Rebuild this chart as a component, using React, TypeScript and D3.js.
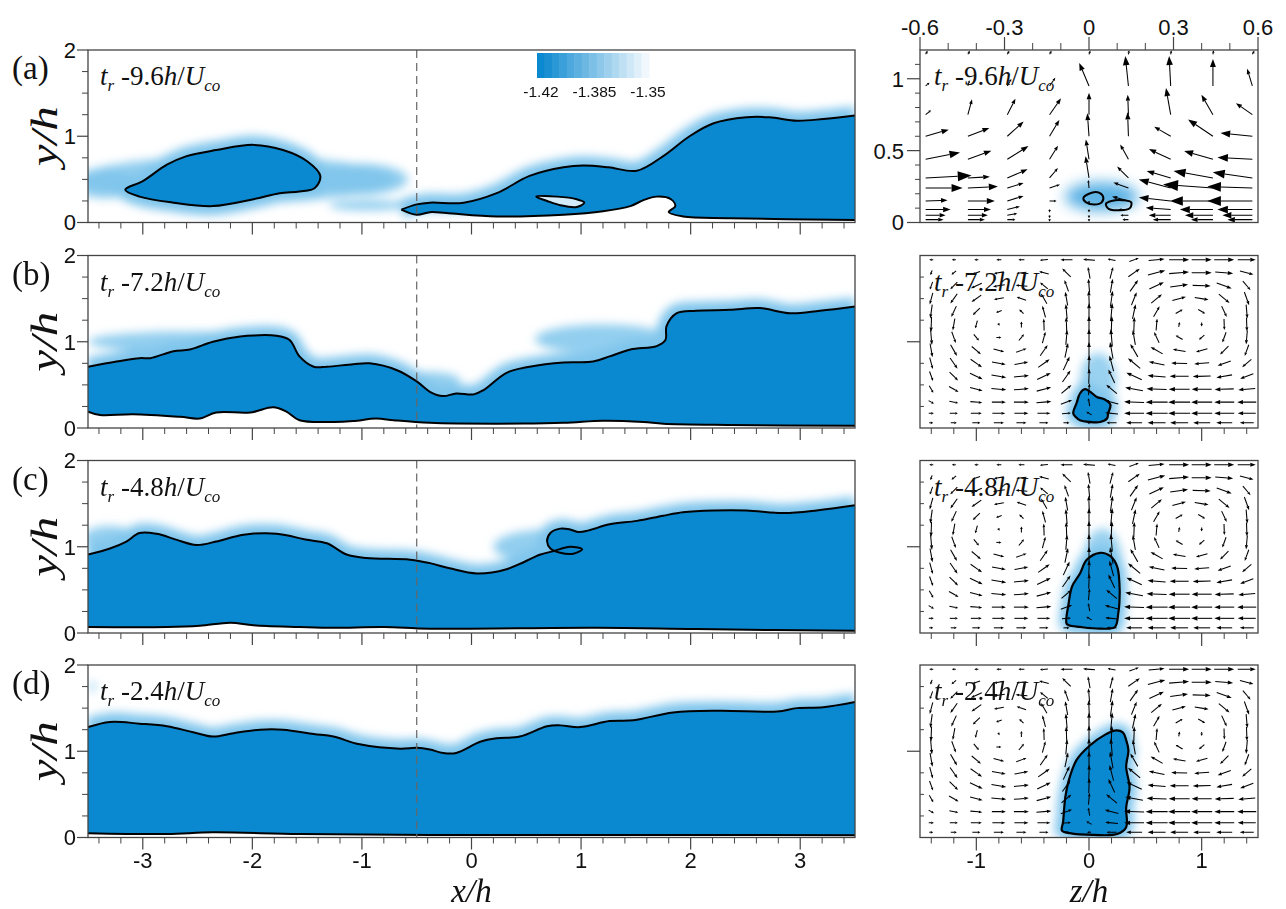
import React from "react";
import * as d3 from "d3";

type P = [number, number];

// ---------------- data ----------------
const panelLetters = ["(a)", "(b)", "(c)", "(d)"];
const timeValues = ["-9.6", "-7.2", "-4.8", "-2.4"];
const xTickLabels = [-3, -2, -1, 0, 1, 2, 3];
const yTickLabels = [0, 1, 2];
const zTickLabels = [-1, 0, 1];
const topTickLabels = [-0.6, -0.3, 0, 0.3, 0.6];
const sideTickLabels = [0, 0.5, 1];
const colorbarLabels = [-1.42, -1.385, -1.35];
const colorbarSteps = 15;
const dashedX = -0.5;

// panel (a) streamwise contours
const upperA: P[] = [[-0.64, 0.15], [-0.5, 0.21], [-0.38, 0.23], [-0.07, 0.23], [0.23, 0.34], [0.53, 0.54], [0.84, 0.64], [1.02, 0.66], [1.25, 0.64], [1.51, 0.6], [1.75, 0.77], [1.99, 1.0], [2.21, 1.15], [2.51, 1.22], [2.72, 1.22], [2.97, 1.18], [3.21, 1.2], [3.5, 1.24]];
const lowerA: P[] = [[-0.64, 0.15], [-0.5, 0.09], [-0.38, 0.12], [-0.23, 0.11], [0.23, 0.07], [0.84, 0.09], [1.2, 0.13], [1.45, 0.19], [1.57, 0.26], [1.69, 0.3], [1.82, 0.27], [1.86, 0.19], [1.8, 0.12], [1.93, 0.07], [2.36, 0.05], [3.5, 0.03]];
const blobA: P[] = [[-3.16, 0.38], [-3.0, 0.48], [-2.78, 0.67], [-2.6, 0.77], [-2.33, 0.84], [-1.99, 0.9], [-1.72, 0.84], [-1.5, 0.71], [-1.38, 0.54], [-1.43, 0.4], [-1.57, 0.36], [-1.75, 0.34], [-1.99, 0.27], [-2.36, 0.19], [-2.72, 0.23], [-3.03, 0.3]];
const islandA: P[] = [[0.59, 0.3], [0.78, 0.3], [0.96, 0.27], [1.03, 0.23], [0.96, 0.18], [0.81, 0.2], [0.69, 0.25]];
const patchesA = [[-2.15, 0.5, 1.45, 0.27], [-1.0, 0.5, 0.42, 0.18], [-3.35, 0.45, 0.3, 0.17], [-0.95, 0.2, 0.35, 0.06]];

// panel (b)
const upperB: P[] = [[-3.5, 0.71], [-3.24, 0.77], [-3.03, 0.81], [-2.93, 0.81], [-2.72, 0.89], [-2.57, 0.91], [-2.36, 1.0], [-2.11, 1.06], [-1.78, 1.07], [-1.66, 1.02], [-1.57, 0.83], [-1.44, 0.71], [-1.32, 0.71], [-1.08, 0.74], [-0.93, 0.75], [-0.68, 0.67], [-0.5, 0.54], [-0.38, 0.42], [-0.26, 0.37], [-0.14, 0.4], [0.02, 0.39], [0.11, 0.44], [0.32, 0.64], [0.53, 0.71], [0.84, 0.76], [1.11, 0.77], [1.26, 0.83], [1.45, 0.91], [1.69, 0.95], [1.77, 1.02], [1.78, 1.18], [1.87, 1.33], [2.05, 1.36], [2.36, 1.37], [2.63, 1.39], [2.91, 1.33], [3.18, 1.36], [3.5, 1.41]];
const lowerB: P[] = [[-3.5, 0.19], [-3.39, 0.15], [-3.09, 0.16], [-2.66, 0.13], [-2.48, 0.11], [-2.33, 0.18], [-2.02, 0.18], [-1.81, 0.24], [-1.69, 0.19], [-1.57, 0.09], [-1.26, 0.07], [-1.08, 0.08], [-0.87, 0.11], [-0.71, 0.09], [-0.38, 0.06], [0.23, 0.05], [0.84, 0.06], [1.2, 0.085], [1.57, 0.07], [1.75, 0.05], [2.36, 0.035], [3.5, 0.025]];
const patchesB = [[1.2, 1.03, 0.62, 0.17], [-2.6, 1.0, 0.9, 0.12], [-0.4, 0.55, 0.3, 0.1]];

// panel (c)
const upperC: P[] = [[-3.5, 0.91], [-3.3, 0.98], [-3.15, 1.06], [-3.03, 1.16], [-2.87, 1.15], [-2.69, 1.08], [-2.51, 1.02], [-2.33, 1.06], [-2.08, 1.14], [-1.78, 1.15], [-1.5, 1.08], [-1.32, 1.04], [-1.14, 0.91], [-0.96, 0.87], [-0.56, 0.85], [-0.38, 0.81], [-0.2, 0.75], [0.05, 0.69], [0.32, 0.74], [0.63, 0.91], [0.75, 0.95], [0.9, 1.0], [1.01, 0.97], [0.93, 0.92], [0.81, 0.93], [0.72, 0.98], [0.69, 1.06], [0.72, 1.16], [0.81, 1.21], [0.9, 1.2], [0.98, 1.17], [1.07, 1.19], [1.26, 1.26], [1.51, 1.3], [1.75, 1.36], [1.93, 1.4], [2.21, 1.42], [2.51, 1.42], [2.85, 1.39], [3.15, 1.42], [3.5, 1.48]];
const lowerC: P[] = [[-3.5, 0.07], [-2.78, 0.07], [-2.48, 0.085], [-2.2, 0.12], [-1.99, 0.09], [-1.57, 0.07], [-1.26, 0.06], [-0.8, 0.07], [-0.38, 0.05], [1.14, 0.06], [2.05, 0.045], [3.5, 0.025]];
const patchesC = [[0.72, 1.0, 0.52, 0.2], [-3.3, 1.1, 0.25, 0.14]];

// panel (d)
const upperD: P[] = [[-3.5, 1.28], [-3.3, 1.34], [-3.03, 1.32], [-2.78, 1.29], [-2.54, 1.22], [-2.36, 1.17], [-2.17, 1.21], [-1.93, 1.25], [-1.72, 1.25], [-1.44, 1.2], [-1.26, 1.17], [-1.02, 1.08], [-0.65, 1.03], [-0.5, 1.04], [-0.38, 1.02], [-0.26, 0.98], [-0.14, 0.98], [0.08, 1.11], [0.23, 1.15], [0.44, 1.17], [0.69, 1.29], [0.81, 1.3], [0.99, 1.28], [1.26, 1.35], [1.48, 1.36], [1.84, 1.45], [2.27, 1.47], [2.79, 1.46], [2.97, 1.5], [3.21, 1.51], [3.5, 1.57]];
const lowerD: P[] = [[-3.5, 0.05], [-2.78, 0.04], [-2.36, 0.06], [-1.57, 0.04], [-0.38, 0.03], [2.05, 0.03], [3.5, 0.025]];
const patchesD = [[-3.46, 1.75, 0.025, 0.06]];

// cross-plane blobs (z/h, y/h)
const crossBlobA1: P[] = [[-0.02, 0.17], [0.0, 0.2], [0.03, 0.21], [0.05, 0.18], [0.045, 0.14], [0.02, 0.125], [-0.01, 0.14]];
const crossBlobA2: P[] = [[0.06, 0.13], [0.08, 0.15], [0.12, 0.155], [0.15, 0.14], [0.145, 0.1], [0.11, 0.085], [0.07, 0.095]];
const crossHaloA = [0.045, 0.18, 0.13, 0.1];
const crossBlobB: P[] = [[-0.14, 0.17], [-0.11, 0.29], [-0.08, 0.4], [-0.035, 0.45], [0.01, 0.42], [0.07, 0.36], [0.14, 0.33], [0.19, 0.27], [0.17, 0.17], [0.16, 0.11], [0.1, 0.07], [0.01, 0.07], [-0.08, 0.09], [-0.12, 0.13]];
const crossBlobC: P[] = [[-0.2, 0.11], [-0.18, 0.35], [-0.15, 0.54], [-0.08, 0.69], [-0.02, 0.85], [0.1, 0.93], [0.19, 0.89], [0.25, 0.77], [0.27, 0.58], [0.27, 0.35], [0.26, 0.23], [0.23, 0.07], [0.1, 0.05], [-0.08, 0.07], [-0.18, 0.09]];
const crossBlobD: P[] = [[-0.24, 0.08], [-0.23, 0.18], [-0.21, 0.47], [-0.18, 0.66], [-0.11, 0.9], [0.01, 1.07], [0.14, 1.19], [0.23, 1.24], [0.3, 1.22], [0.33, 1.13], [0.35, 1.01], [0.33, 0.82], [0.36, 0.58], [0.33, 0.35], [0.33, 0.12], [0.25, 0.04], [0.04, 0.03], [-0.17, 0.05]];
const crossPlumes = [[0.08, 0.55, 0.16, 0.32], [0.12, 0.85, 0.17, 0.36], [0.1, 0.7, 0.2, 0.5]];

// panel (a) cross-plane vectors (top axis units), angle deg / length
const vecAZ = [-0.58, -0.43, -0.29, -0.14, 0, 0.14, 0.29, 0.44, 0.58];
const vecAY = [1.17, 0.95, 0.75, 0.6, 0.44, 0.31, 0.24, 0.15, 0.09, 0.05, 0.02];
const vecAAngles = [
  [60, 60, 60, 60, 70, 80, 80, 80, 60],
  [40, 75, 60, 55, 113, 96, 93, 90, 107],
  [40, 75, 63, 55, 90, 92, 100, 120, 145],
  [16, 21, 42, 59, 94, 92, 150, 146, 174],
  [11, 20, 32, 58, 99, 119, 155, 164, 177],
  [3, 3, 23, 50, 99, 135, 164, 170, 172],
  [0, 3, 17, 18, 95, 160, 165, 176, 178],
  [2, 0, 17, 0, 270, 165, 174, 180, 180],
  [0, 0, 14, 270, 270, 180, 176, 180, 180],
  [0, 0, 10, 270, 270, 180, 180, 180, 180],
  [0, 0, 0, 270, 270, 180, 180, 180, 180],
];
const vecALengths = [
  [4, 4, 4, 4, 4, 4, 4, 4, 4],
  [5, 6, 8, 10, 25, 30, 30, 27, 18],
  [7, 16, 18, 20, 22, 20, 27, 23, 20],
  [24, 23, 22, 19, 23, 24, 19, 30, 32],
  [35, 25, 25, 16, 20, 17, 24, 30, 35],
  [46, 22, 22, 13, 22, 16, 25, 40, 40],
  [37, 30, 17, 11, 8, 16, 33, 50, 45],
  [22, 27, 17, 7, 3, 17, 32, 43, 45],
  [25, 23, 13, 3, 3, 10, 25, 33, 35],
  [20, 20, 10, 3, 3, 8, 22, 28, 30],
  [18, 17, 8, 2, 2, 6, 18, 22, 25],
];

// panels (b)-(d) cross-plane vectors (z/h, y/h)
const crossZ = [-1.4, -1.2, -1.0, -0.8, -0.6, -0.4, -0.2, 0, 0.2, 0.4, 0.6, 0.8, 1.0, 1.2, 1.4];
const crossY = [1.95, 1.8, 1.65, 1.5, 1.35, 1.2, 1.05, 0.9, 0.75, 0.6, 0.45, 0.3, 0.17, 0.06];
const crossAngles = [
  [180, 180, 180, 180, 180, 185, 180, 175, 170, 20, 5, 0, 0, 0, 0],
  [250, 220, 200, 190, 185, 165, 135, 100, 75, 35, 15, 5, 0, 355, 345],
  [250, 225, 205, 190, 175, 140, 110, 95, 80, 55, 25, 8, 358, 340, 310],
  [255, 235, 215, 190, 160, 120, 100, 92, 82, 68, 40, 15, 350, 320, 290],
  [262, 245, 225, 200, 135, 105, 95, 90, 85, 78, 60, 30, 330, 295, 275],
  [268, 260, 255, 300, 90, 92, 92, 90, 88, 88, 85, 80, 270, 272, 272],
  [275, 290, 310, 0, 50, 75, 85, 90, 95, 100, 115, 150, 220, 250, 265],
  [280, 300, 320, 345, 20, 55, 78, 90, 100, 120, 150, 170, 195, 225, 250],
  [285, 305, 325, 350, 10, 35, 65, 88, 105, 140, 168, 178, 185, 200, 220],
  [290, 315, 335, 350, 5, 25, 55, 88, 115, 155, 175, 180, 182, 190, 200],
  [300, 330, 345, 355, 5, 15, 40, 85, 140, 170, 178, 180, 180, 182, 185],
  [330, 350, 355, 0, 0, 5, 20, 100, 165, 178, 180, 180, 180, 180, 180],
  [0, 0, 0, 0, 0, 0, 5, 150, 175, 180, 180, 180, 180, 180, 180],
  [0, 0, 0, 0, 0, 0, 0, 180, 180, 180, 180, 180, 180, 180, 180],
];
const crossLengths = [
  [4, 4, 4, 5, 6, 8, 12, 12, 8, 10, 16, 20, 20, 20, 18],
  [5, 6, 8, 10, 10, 10, 12, 12, 12, 14, 18, 20, 20, 18, 14],
  [8, 10, 12, 12, 12, 10, 12, 14, 14, 14, 16, 18, 18, 16, 12],
  [12, 12, 12, 10, 10, 12, 14, 16, 16, 14, 14, 14, 14, 14, 14],
  [14, 12, 10, 6, 6, 12, 15, 17, 17, 15, 12, 8, 8, 12, 14],
  [15, 12, 8, 3, 6, 12, 15, 17, 17, 15, 12, 5, 4, 11, 14],
  [15, 12, 8, 5, 8, 12, 15, 17, 17, 15, 12, 8, 7, 11, 14],
  [14, 13, 12, 11, 11, 13, 15, 17, 17, 15, 14, 13, 12, 12, 12],
  [12, 13, 14, 14, 14, 14, 15, 16, 16, 16, 16, 16, 15, 14, 12],
  [10, 12, 14, 15, 15, 15, 14, 15, 15, 17, 18, 19, 18, 16, 14],
  [8, 11, 13, 15, 15, 15, 13, 12, 14, 18, 20, 21, 20, 19, 17],
  [6, 9, 12, 14, 15, 15, 12, 8, 14, 20, 22, 22, 21, 20, 19],
  [5, 8, 11, 13, 14, 13, 9, 6, 13, 20, 22, 22, 21, 20, 18],
  [4, 6, 8, 10, 10, 9, 6, 4, 10, 16, 18, 18, 17, 16, 14],
];

const leftUpper = [upperA, upperB, upperC, upperD];
const leftLower = [lowerA, lowerB, lowerC, lowerD];
const leftBlobs = [[blobA], [], [], []];
const leftHoles = [[islandA], [], [], []];
const leftPatches = [patchesA, patchesB, patchesC, patchesD];
const crossBlobs = [crossBlobB, crossBlobC, crossBlobD];

// ---------------- layout ----------------
const LX0 = 88, LX1 = 855, RX0 = 920, RX1 = 1258;
const TOPS = [50, 255.5, 460.5, 665];
const PH = 172.5;
const SERIF = "'Liberation Serif', 'Times New Roman', serif";
const SANS = "'Liberation Sans', Arial, sans-serif";
const BLUE = "#0a88d0";
const HALO = "#7fc5ec";
const AX = "#444";

const xL = d3.scaleLinear().domain([-3.5, 3.5]).range([LX0, LX1]);
const zR = d3.scaleLinear().domain([-1.5, 1.5]).range([RX0, RX1]);
const zTop = d3.scaleLinear().domain([-0.6, 0.6]).range([RX0, RX1]);
const vecLen = d3.scaleLinear().domain([0, 10]).range([0, 10]);
const fmt = (v: number) => (v < 0 ? "-" + String(Math.abs(v)) : String(v));

function Arrow({ x, y, ang, len, centered }: { x: number; y: number; ang: number; len: number; centered: boolean }) {
  if (len <= 0) return null;
  const r = (ang * Math.PI) / 180;
  const ux = Math.cos(r), uy = -Math.sin(r);
  const x0 = centered ? x - (ux * len) / 2 : x;
  const y0 = centered ? y - (uy * len) / 2 : y;
  const x1 = x0 + ux * len, y1 = y0 + uy * len;
  const hl = Math.max(2.5, len * 0.3), hw = Math.max(1.3, len * 0.11);
  const bx = x1 - ux * hl, by = y1 - uy * hl;
  const px = -uy, py = ux;
  return (
    <g>
      <line x1={x0} y1={y0} x2={bx} y2={by} stroke="#000" strokeWidth={1.05} />
      <path d={`M${x1},${y1}L${bx + px * hw},${by + py * hw}L${bx - px * hw},${by - py * hw}Z`} fill="#000" />
    </g>
  );
}

function TimeLabel({ x, y, val }: { x: number; y: number; val: string }) {
  return (
    <text x={x} y={y} fontFamily={SERIF} fontSize={27} fill="#111">
      <tspan fontStyle="italic">t</tspan>
      <tspan fontStyle="italic" fontSize={17} dy={6}>r</tspan>
      <tspan dy={-6}>{" " + val}</tspan>
      <tspan fontStyle="italic">h</tspan>
      <tspan>/</tspan>
      <tspan fontStyle="italic">U</tspan>
      <tspan fontStyle="italic" fontSize={17} dy={6}>co</tspan>
    </text>
  );
}

function LeftPanel({ i }: { i: number }) {
  const top = TOPS[i];
  const y = d3.scaleLinear().domain([0, 2]).range([top + PH, top]);
  const line = d3.line<P>().x((d) => xL(d[0])).y((d) => y(d[1])).curve(d3.curveCatmullRom.alpha(0.5));
  const loop = d3.line<P>().x((d) => xL(d[0])).y((d) => y(d[1])).curve(d3.curveCatmullRomClosed.alpha(0.5));
  const up = leftUpper[i], lo = leftLower[i];
  const region = (line(up) as string) + "L" + (line([...lo].reverse()) as string).slice(1) + "Z";
  const clipId = `clipL${i}`;
  const minorX = d3.range(-17, 18).filter((k) => k % 5 !== 0).map((k) => k * 0.2);
  const minorY = [0.25, 0.5, 0.75, 1.25, 1.5, 1.75];
  return (
    <g>
      <clipPath id={clipId}>
        <rect x={LX0} y={top} width={LX1 - LX0} height={PH} />
      </clipPath>
      <g clipPath={`url(#${clipId})`}>
        <g filter="url(#blur5)">
          {leftPatches[i].map((p, k) => (
            <ellipse key={k} cx={xL(p[0])} cy={y(p[1])} rx={xL(p[0] + p[2]) - xL(p[0])} ry={y(0) - y(p[3])} fill={HALO} opacity={0.85} />
          ))}
          <path d={line(up) as string} stroke={HALO} strokeWidth={18} fill="none" />
          {leftBlobs[i].map((b, k) => (
            <path key={k} d={loop(b) as string} stroke={HALO} strokeWidth={18} fill={HALO} />
          ))}
        </g>
        <path d={region} fill={BLUE} />
        {leftBlobs[i].map((b, k) => (
          <path key={k} d={loop(b) as string} fill={BLUE} />
        ))}
        {leftHoles[i].map((h, k) => (
          <path key={k} d={loop(h) as string} fill="#d3ebf8" />
        ))}
        <path d={line(up) as string} stroke="#000" strokeWidth={2} fill="none" />
        <path d={line(lo) as string} stroke="#000" strokeWidth={2} fill="none" />
        {leftBlobs[i].map((b, k) => (
          <path key={k} d={loop(b) as string} stroke="#000" strokeWidth={2} fill="none" />
        ))}
        {leftHoles[i].map((h, k) => (
          <path key={k} d={loop(h) as string} stroke="#000" strokeWidth={2} fill="none" />
        ))}
      </g>
      <line x1={xL(dashedX)} x2={xL(dashedX)} y1={top} y2={top + PH} stroke="#666" strokeWidth={1.2} strokeDasharray="8,5" />
      <rect x={LX0} y={top} width={LX1 - LX0} height={PH} fill="none" stroke={AX} strokeWidth={1.3} />
      {xTickLabels.map((v) => (
        <line key={"mx" + v} x1={xL(v)} x2={xL(v)} y1={top + PH} y2={top + PH + 12} stroke={AX} strokeWidth={1.2} />
      ))}
      {minorX.map((v) => (
        <line key={"nx" + v} x1={xL(v)} x2={xL(v)} y1={top + PH} y2={top + PH + 6} stroke={AX} strokeWidth={1} />
      ))}
      {yTickLabels.map((v) => (
        <line key={"my" + v} x1={LX0 - 11} x2={LX0} y1={y(v)} y2={y(v)} stroke={AX} strokeWidth={1.2} />
      ))}
      {minorY.map((v) => (
        <line key={"ny" + v} x1={LX0 - 6} x2={LX0} y1={y(v)} y2={y(v)} stroke={AX} strokeWidth={1} />
      ))}
      {yTickLabels.map((v) => (
        <text key={"ly" + v} x={76} y={y(v)} dy="0.36em" textAnchor="end" fontFamily={SANS} fontSize={22} fill="#111">
          {v}
        </text>
      ))}
      <text x={12} y={top + 29} fontFamily={SERIF} fontSize={33} fill="#111">
        {panelLetters[i]}
      </text>
      <text
        transform={`translate(57,${top + PH / 2}) rotate(-90)`}
        textAnchor="middle"
        fontFamily={SERIF}
        fontStyle="italic"
        fontSize={38}
        textLength={60}
        lengthAdjust="spacingAndGlyphs"
        fill="#111"
      >
        y/h
      </text>
      <TimeLabel x={100} y={top + 35} val={timeValues[i]} />
      {i === 3 &&
        xTickLabels.map((v) => (
          <text key={"lx" + v} x={xL(v)} y={868} textAnchor="middle" fontFamily={SANS} fontSize={22} fill="#111">
            {fmt(v)}
          </text>
        ))}
    </g>
  );
}

function RightPanelA() {
  const top = TOPS[0];
  const y = d3.scaleLinear().domain([0, 1.2]).range([top + PH, top]);
  const loop = d3.line<P>().x((d) => zTop(d[0])).y((d) => y(d[1])).curve(d3.curveCatmullRomClosed.alpha(0.5));
  const minorTop = d3.range(-6, 7).filter((k) => k % 3 !== 0).map((k) => k * 0.1);
  const minorSide = d3.range(1, 12).filter((k) => k % 5 !== 0).map((k) => k * 0.1);
  const h = crossHaloA;
  return (
    <g>
      <clipPath id="clipRA">
        <rect x={RX0} y={top} width={RX1 - RX0} height={PH} />
      </clipPath>
      <g clipPath="url(#clipRA)">
        <ellipse cx={zTop(h[0])} cy={y(h[1])} rx={zTop(h[0] + h[2]) - zTop(h[0])} ry={y(0) - y(h[3])} fill="#4aa9e2" opacity={0.9} filter="url(#blur7)" />
        {vecAY.map((yy, r) =>
          vecAZ.map((zz, c) => (
            <Arrow key={r + "-" + c} x={zTop(zz)} y={y(yy)} ang={vecAAngles[r][c]} len={vecLen(vecALengths[r][c])} centered={false} />
          ))
        )}
        {[crossBlobA1, crossBlobA2].map((b, k) => (
          <path key={k} d={loop(b) as string} fill="none" stroke="#000" strokeWidth={2} />
        ))}
      </g>
      <rect x={RX0} y={top} width={RX1 - RX0} height={PH} fill="none" stroke={AX} strokeWidth={1.3} />
      {topTickLabels.map((v) => (
        <g key={"t" + v}>
          <line x1={zTop(v)} x2={zTop(v)} y1={top} y2={top - 13} stroke={AX} strokeWidth={1.2} />
          <text x={zTop(v)} y={35} textAnchor="middle" fontFamily={SANS} fontSize={22} fill="#111">
            {fmt(v)}
          </text>
        </g>
      ))}
      {minorTop.map((v) => (
        <line key={"mt" + v} x1={zTop(v)} x2={zTop(v)} y1={top} y2={top - 7} stroke={AX} strokeWidth={1} />
      ))}
      {sideTickLabels.map((v) => (
        <g key={"s" + v}>
          <line x1={RX0 - 13} x2={RX0} y1={y(v)} y2={y(v)} stroke={AX} strokeWidth={1.2} />
          <text x={904} y={y(v)} dy="0.36em" textAnchor="end" fontFamily={SANS} fontSize={22} fill="#111">
            {v}
          </text>
        </g>
      ))}
      {minorSide.map((v) => (
        <line key={"ms" + v} x1={RX0 - 5} x2={RX0} y1={y(v)} y2={y(v)} stroke={AX} strokeWidth={1} />
      ))}
      <TimeLabel x={934} y={top + 35} val={timeValues[0]} />
    </g>
  );
}

function RightPanel({ i }: { i: number }) {
  const top = TOPS[i];
  const y = d3.scaleLinear().domain([0, 2]).range([top + PH, top]);
  const loop = d3.line<P>().x((d) => zR(d[0])).y((d) => y(d[1])).curve(d3.curveCatmullRomClosed.alpha(0.5));
  const blob = crossBlobs[i - 1];
  const pl = crossPlumes[i - 1];
  const clipId = `clipR${i}`;
  const minorZ = d3.range(-7, 8).filter((k) => k % 5 !== 0).map((k) => k * 0.2);
  const minorY = [0.25, 0.5, 0.75, 1.25, 1.5, 1.75];
  return (
    <g>
      <clipPath id={clipId}>
        <rect x={RX0} y={top} width={RX1 - RX0} height={PH} />
      </clipPath>
      <g clipPath={`url(#${clipId})`}>
        <g filter="url(#blur5)">
          <ellipse cx={zR(pl[0])} cy={y(pl[1])} rx={zR(pl[0] + pl[2]) - zR(pl[0])} ry={y(0) - y(pl[3])} fill={HALO} opacity={0.8} />
          <path d={loop(blob) as string} stroke={HALO} strokeWidth={14} fill={HALO} />
        </g>
        <path d={loop(blob) as string} fill={BLUE} />
        {crossY.map((yy, r) =>
          crossZ.map((zz, c) => (
            <Arrow key={r + "-" + c} x={zR(zz)} y={y(yy)} ang={crossAngles[r][c]} len={vecLen(crossLengths[r][c])} centered={true} />
          ))
        )}
        <path d={loop(blob) as string} fill="none" stroke="#000" strokeWidth={2.2} />
      </g>
      <rect x={RX0} y={top} width={RX1 - RX0} height={PH} fill="none" stroke={AX} strokeWidth={1.3} />
      {zTickLabels.map((v) => (
        <line key={"mz" + v} x1={zR(v)} x2={zR(v)} y1={top + PH} y2={top + PH + 13} stroke={AX} strokeWidth={1.2} />
      ))}
      {minorZ.map((v) => (
        <line key={"nz" + v} x1={zR(v)} x2={zR(v)} y1={top + PH} y2={top + PH + 6} stroke={AX} strokeWidth={1} />
      ))}
      <line x1={RX0 - 13} x2={RX0} y1={y(1)} y2={y(1)} stroke={AX} strokeWidth={1.2} />
      {minorY.map((v) => (
        <line key={"ny" + v} x1={RX0} x2={RX0 + 4} y1={y(v)} y2={y(v)} stroke={AX} strokeWidth={1} />
      ))}
      <TimeLabel x={934} y={top + 35} val={timeValues[i]} />
      {i === 3 &&
        zTickLabels.map((v) => (
          <text key={"lz" + v} x={zR(v)} y={868} textAnchor="middle" fontFamily={SANS} fontSize={22} fill="#111">
            {fmt(v)}
          </text>
        ))}
    </g>
  );
}

function Colorbar() {
  const x0 = 537, x1 = 649, y0 = 53, h = 25;
  const cbX = d3.scaleLinear().domain([-1.42, -1.35]).range([541, 648]);
  const col = d3.scaleLinear<string>().domain([0, colorbarSteps - 1]).range([BLUE, "#f0f8fd"]).interpolate(d3.interpolateRgb);
  const w = (x1 - x0) / colorbarSteps;
  return (
    <g>
      {d3.range(colorbarSteps).map((k) => (
        <rect key={k} x={x0 + k * w} y={y0} width={w + 0.5} height={h} fill={col(k)} />
      ))}
      {colorbarLabels.map((v) => (
        <text key={v} x={cbX(v)} y={97} textAnchor="middle" fontFamily={SANS} fontSize={15.5} fill="#111">
          {fmt(v)}
        </text>
      ))}
    </g>
  );
}

export default function App() {
  return (
    <svg width={1286} height={909} style={{ position: "absolute", left: 0, top: 0, display: "block" }} xmlns="http://www.w3.org/2000/svg">
      <defs>
        <filter id="blur5" filterUnits="userSpaceOnUse" x={0} y={0} width={1286} height={909}>
          <feGaussianBlur stdDeviation={5} />
        </filter>
        <filter id="blur7" filterUnits="userSpaceOnUse" x={0} y={0} width={1286} height={909}>
          <feGaussianBlur stdDeviation={7} />
        </filter>
      </defs>
      <rect x={0} y={0} width={1286} height={909} fill="#fff" />
      {[0, 1, 2, 3].map((i) => (
        <LeftPanel key={i} i={i} />
      ))}
      <RightPanelA />
      {[1, 2, 3].map((i) => (
        <RightPanel key={i} i={i} />
      ))}
      <Colorbar />
      <text x={(LX0 + LX1) / 2} y={902} textAnchor="middle" fontFamily={SERIF} fontStyle="italic" fontSize={33} fill="#111">
        x/h
      </text>
      <text x={zR(0)} y={902} textAnchor="middle" fontFamily={SERIF} fontStyle="italic" fontSize={33} fill="#111">
        z/h
      </text>
    </svg>
  );
}
